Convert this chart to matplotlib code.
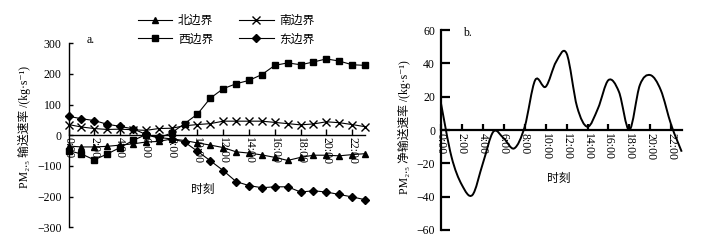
import matplotlib

matplotlib.use("Agg")
import matplotlib.pyplot as plt  # noqa: E402
import numpy as np  # noqa: E402
from matplotlib.path import Path  # noqa: E402
from matplotlib.patches import PathPatch  # noqa: E402

plt.rcParams["font.family"] = ["Liberation Serif", "Noto Sans CJK SC", "DejaVu Serif"]
plt.rcParams["font.size"] = 8.5

# --- data ------------------------------------------------------------
hours = np.arange(24)
tick_hours = [0, 2, 4, 6, 8, 10, 12, 14, 16, 18, 20, 22]
tick_labels = ["0:00", "2:00", "4:00", "6:00", "8:00", "10:00", "12:00",
               "14:00", "16:00", "18:00", "20:00", "22:00"]

north = [-35, -38, -38, -36, -32, -28, -22, -20, -12, -17, -25, -32,
         -40, -54, -58, -64, -72, -82, -72, -65, -65, -67, -63, -60]
south = [35, 27, 22, 19, 20, 18, 16, 22, 23, 31, 35, 38,
         46, 46, 46, 46, 42, 38, 34, 37, 44, 41, 35, 28]
west = [-50, -61, -80, -61, -40, -17, 2, -9, 8, 38, 69, 121,
        152, 168, 179, 198, 228, 236, 230, 239, 249, 242, 230, 228]
east = [62, 54, 48, 36, 29, 21, 3, -7, -12, -22, -52, -83,
        -115, -151, -164, -171, -168, -168, -185, -181, -185, -193, -201, -210]

net = [16, -16, -33, -39, -20, -1, -5, -11, 2, 30, 26, 41,
       46, 14, 2, 13, 30, 23, 0, 27, 33, 24, 3, -13]


def smooth_path(x, y):
    """Excel-style smoothed line as cubic Bezier segments (Catmull-Rom tangents)."""
    x = np.asarray(x, float)
    y = np.asarray(y, float)
    px = np.r_[x[0], x, x[-1]]
    py = np.r_[y[0], y, y[-1]]
    verts = [(x[0], y[0])]
    codes = [Path.MOVETO]
    for i in range(1, len(px) - 2):
        c1 = (px[i] + (px[i + 1] - px[i - 1]) / 6, py[i] + (py[i + 1] - py[i - 1]) / 6)
        c2 = (px[i + 1] - (px[i + 2] - px[i]) / 6, py[i + 1] - (py[i + 2] - py[i]) / 6)
        verts += [c1, c2, (px[i + 1], py[i + 1])]
        codes += [Path.CURVE4] * 3
    return Path(verts, codes)


def style_axis(ax, lw, ylen, xlen, ypad, xpad, mask=False):
    for s in ("top", "right"):
        ax.spines[s].set_visible(False)
    ax.spines["bottom"].set_position(("data", 0))
    ax.spines["left"].set_linewidth(lw)
    ax.spines["bottom"].set_linewidth(lw)
    ax.tick_params(axis="y", direction="in", length=ylen, width=lw, pad=ypad)
    ax.tick_params(axis="x", direction="in", length=xlen, width=lw, pad=xpad)
    ax.set_xlim(0, 23)
    ax.set_xticks(tick_hours, tick_labels, rotation=-90)
    if mask:
        for lab in ax.get_xticklabels():
            lab.set_bbox(dict(facecolor="white", edgecolor="none", pad=0))


fig = plt.figure(figsize=(7.02, 2.48), dpi=100)

# --- a. boundary transport ------------------------------------------
ax1 = fig.add_axes([0.0976, 0.0835, 0.4224, 0.742])
kw = dict(color="black", lw=0.8, clip_on=False)
l_n, = ax1.plot(hours, north, marker="^", ms=5, label="北边界", **kw)
l_w, = ax1.plot(hours, west, marker="s", ms=4, label="西边界", **kw)
l_s, = ax1.plot(hours, south, marker="x", ms=6, mew=1.0, label="南边界", **kw)
l_e, = ax1.plot(hours, east, marker="D", ms=4, label="东边界", **kw)
ax1.set_ylim(-300, 300)
ax1.set_yticks([-300, -200, -100, 0, 100, 200, 300])
style_axis(ax1, 1.0, 3, 4, 5, 1.5, mask=True)
ax1.set_ylabel("PM₂.₅ 输送速率 /(kg·s⁻¹)")
ax1.yaxis.set_label_coords(-0.126, 0.545)
ax1.text(0.062, 1.018, "a.", transform=ax1.transAxes, va="center", ha="left")
ax1.text(0.4536, 0.203, "时刻", transform=ax1.transAxes, va="center", ha="center")

fig.legend(handles=[l_n, l_w, l_s, l_e], ncol=2, loc="upper left",
           bbox_to_anchor=(0.1966, 0.94), frameon=False, borderpad=0,
           borderaxespad=0, handlelength=2.9, columnspacing=2.2,
           labelspacing=0.55, handletextpad=0.5)

# --- b. net transport -------------------------------------------------
ax2 = fig.add_axes([0.6282, 0.0726, 0.3429, 0.806])
ax2.add_patch(PathPatch(smooth_path(hours, net), facecolor="none",
                        edgecolor="black", lw=1.4, clip_on=False))
ax2.set_ylim(-60, 60)
ax2.set_yticks([-60, -40, -20, 0, 20, 40, 60])
style_axis(ax2, 1.6, 6.5, 4.3, 4.3, 2)
ax2.set_ylabel("PM₂.₅ 净输送速率 /(kg·s⁻¹)")
ax2.yaxis.set_label_coords(-0.125, 0.515)
ax2.text(0.091, 0.985, "b.", transform=ax2.transAxes, va="center", ha="left")
ax2.text(0.49, 0.255, "时刻", transform=ax2.transAxes, va="center", ha="center")

fig.savefig("out.png", dpi=100)
